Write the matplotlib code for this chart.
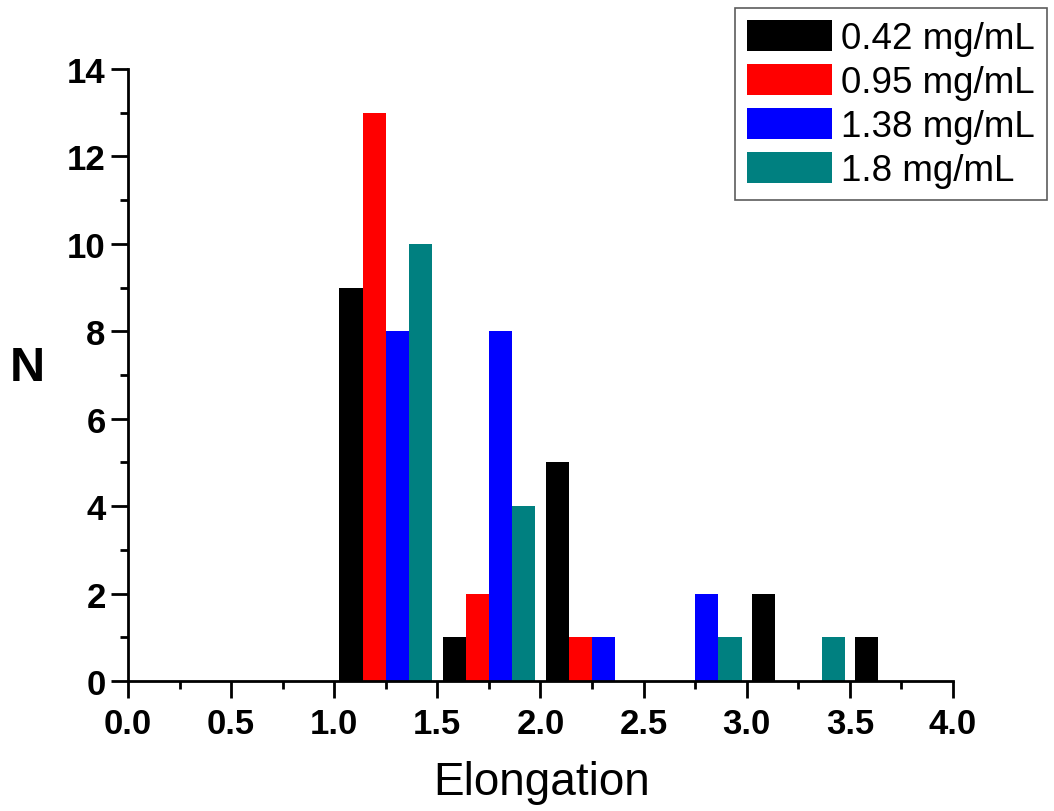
"""
Elongation histogram for the four concentrations
"""
import numpy as np
import matplotlib.pyplot as plt
from matplotlib.ticker import MultipleLocator

plt.rcParams['font.family'] = ['Liberation Sans', 'DejaVu Sans']

bin_centres = [1.25, 1.75, 2.25, 2.75, 3.25, 3.75]
labels = ["0.42 mg/mL", "0.95 mg/mL", "1.38 mg/mL", "1.8 mg/mL"]
colours = ["#000000", "#FF0000", "#0000FF", "#008080"]

counts_042 = [9, 1, 5, 0, 2, 1]
counts_095 = [13, 2, 1, 0, 0, 0]
counts_138 = [8, 8, 1, 2, 0, 0]
counts_180 = [10, 4, 0, 1, 1, 0]

all_counts = [counts_042, counts_095, counts_138, counts_180]

fig = plt.figure(figsize=(10.54, 8.12), dpi=100)
ax = fig.add_axes([0.1214, 0.160, 0.7828, 0.7538])

width = 0.1125
x = np.array(bin_centres)
for i in range(len(all_counts)):
    offset = (i - 1.5) * width
    ax.bar(x + offset, all_counts[i], width=width, color=colours[i],
           label=labels[i], linewidth=0)

ax.set_xlim(0, 4.0)
ax.set_ylim(0, 14)
ax.xaxis.set_major_locator(MultipleLocator(0.5))
ax.xaxis.set_minor_locator(MultipleLocator(0.25))
ax.yaxis.set_major_locator(MultipleLocator(2))
ax.yaxis.set_minor_locator(MultipleLocator(1))
ax.set_xticks(np.arange(0, 4.01, 0.5))
ax.set_xticklabels(["{0:.1f}".format(v) for v in np.arange(0, 4.01, 0.5)])

for side in ['top', 'right']:
    ax.spines[side].set_visible(False)
for side in ['left', 'bottom']:
    ax.spines[side].set_linewidth(2)

ax.tick_params(which='major', direction='out', length=12, width=2,
               labelsize=25)
ax.tick_params(axis='x', which='major', pad=7)
ax.tick_params(axis='y', which='major', pad=4)
ax.tick_params(which='minor', direction='out', length=6, width=2)
for lab in ax.get_xticklabels() + ax.get_yticklabels():
    lab.set_fontweight('bold')

ax.set_xlabel("Elongation", fontsize=33, va='baseline')
ax.xaxis.set_label_coords(0.501, -0.1846)
ax.set_ylabel("N", fontsize=35, fontweight='bold', rotation=0,
              va='center', ha='center')
ax.yaxis.set_label_coords(-0.1224, 0.513)

leg = ax.legend(loc='upper left', bbox_to_anchor=(735 / 1054, 1 - 9 / 812),
                bbox_transform=fig.transFigure, fontsize=26.5, frameon=True,
                fancybox=False, handlelength=2.3, handleheight=0.9,
                handletextpad=0.25, labelspacing=0.22, borderpad=0.33,
                borderaxespad=0)
leg.get_frame().set_edgecolor('#333333')
leg.get_frame().set_linewidth(1.2)

fig.savefig("out.png", dpi=100)
